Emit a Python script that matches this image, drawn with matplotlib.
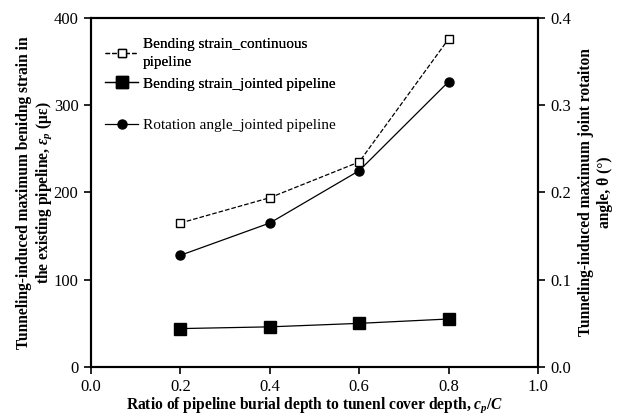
import numpy as np
import matplotlib
matplotlib.use('Agg')
import matplotlib.pyplot as plt

plt.rcParams['font.family'] = ['Liberation Serif', 'DejaVu Serif']
plt.rcParams['mathtext.fontset'] = 'custom'
plt.rcParams['mathtext.rm'] = 'Liberation Serif:bold'
plt.rcParams['mathtext.it'] = 'Liberation Serif:italic:bold'
plt.rcParams['mathtext.bf'] = 'Liberation Serif:bold'

# data
ratio = [0.2, 0.4, 0.6, 0.8]
strain_continuous = [165, 194, 235, 376]
strain_jointed = [44, 46, 50, 55]
rotation_jointed = [0.128, 0.165, 0.225, 0.327]

fig = plt.figure(figsize=(6.23, 4.15), dpi=100)
ax = fig.add_axes([0.146, 0.1157, 0.7176, 0.841])
ax2 = ax.twinx()

l1, = ax.plot(ratio, strain_continuous, 'k--', marker='s', markerfacecolor='white',
              markeredgecolor='k', markersize=6, linewidth=0.9,
              label='Bending strain_continuous\npipeline')
l2, = ax.plot(ratio, strain_jointed, 'k-', marker='s', markersize=8, linewidth=0.9,
              label='Bending strain_jointed pipeline')
l3, = ax2.plot(ratio, rotation_jointed, 'k-', marker='o', markersize=6.5, linewidth=0.9,
               label='Rotation angle_jointed pipeline')

ax.set_xlim(0, 1.0)
ax.set_ylim(0, 400)
ax2.set_ylim(0, 0.4)
ax.set_xticks(np.arange(0, 1.01, 0.2))
ax.set_xticklabels(['0.0', '0.2', '0.4', '0.6', '0.8', '1.0'])
ax.set_yticks([0, 100, 200, 300, 400])
ax2.set_yticks([0, 0.1, 0.2, 0.3, 0.4])
ax2.set_yticklabels(['0.0', '0.1', '0.2', '0.3', '0.4'])

for a in (ax, ax2):
    a.tick_params(direction='out', labelsize=12, width=1.2, length=5, pad=4)
    for s in a.spines.values():
        s.set_linewidth(1.5)

ax.set_xlabel('Ratio of pipeline burial depth to tunenl cover depth, $c_p/C$',
              fontsize=11.2, fontweight='bold', labelpad=0)
ax.set_ylabel('Tunneling-induced maximum benidng strain in\nthe existing pipeline, '
              '$\\varepsilon_p$ (με)', fontsize=11.2, fontweight='bold', labelpad=-0.5)
ax2.set_ylabel('Tunneling-induced maximum joint rotaiton\nangle, θ (°)',
               fontsize=11.2, fontweight='bold', labelpad=5)

# two legends so the gaps match the reference (Excel-style spacing)
leg_a = ax.legend(handles=[l1, l2], loc='upper left', frameon=False, fontsize=11,
                  handlelength=2.2, labelspacing=0.55, bbox_to_anchor=(0.0, 0.982),
                  handletextpad=0.3)
for t in leg_a.get_texts():
    t.set_linespacing(1.45)
ax.add_artist(leg_a)
ax2.legend(handles=[l3], loc='center left', frameon=False, fontsize=11,
           handlelength=2.2, bbox_to_anchor=(0.0, 0.693), handletextpad=0.3)

fig.savefig('out.png', dpi=100)
